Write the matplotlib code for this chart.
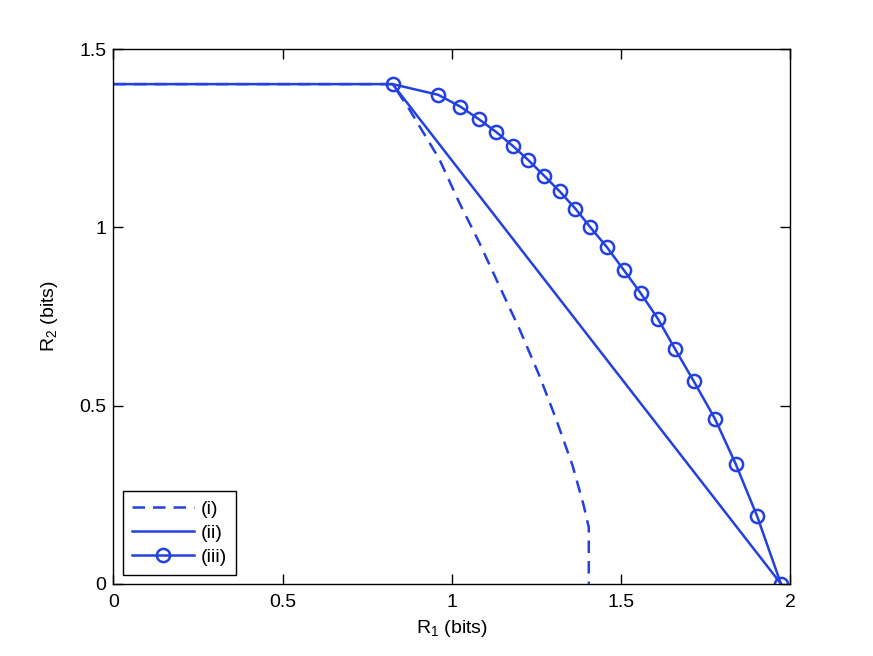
import matplotlib
matplotlib.use("Agg")
import matplotlib.pyplot as plt

plt.rcParams['font.family'] = ['Liberation Sans', 'DejaVu Sans']
plt.rcParams['mathtext.fontset'] = 'custom'
plt.rcParams['mathtext.rm'] = 'Liberation Sans'
plt.rcParams['mathtext.it'] = 'Liberation Sans'
plt.rcParams['mathtext.default'] = 'regular'

# Series (i): dashed
r1_i = [0.0, 0.825, 0.874, 0.963, 1.022, 1.081, 1.140, 1.200, 1.259, 1.308, 1.357, 1.390, 1.402, 1.405, 1.405]
r2_i = [1.402, 1.402, 1.332, 1.192, 1.070, 0.958, 0.837, 0.715, 0.584, 0.463, 0.332, 0.22, 0.17, 0.16, 0.0]

# Series (ii): solid
r1_ii = [0.0, 0.825, 1.973]
r2_ii = [1.402, 1.402, 0.0]

# Series (iii): solid with circles
r1_iii = [0.825, 0.960, 1.025, 1.081, 1.131, 1.180, 1.226, 1.273, 1.319, 1.365, 1.410,
          1.459, 1.508, 1.558, 1.609, 1.660, 1.715, 1.778, 1.839, 1.903, 1.973]
r2_iii = [1.402, 1.372, 1.339, 1.303, 1.268, 1.229, 1.189, 1.145, 1.101, 1.053, 1.000,
          0.944, 0.881, 0.816, 0.744, 0.659, 0.569, 0.463, 0.337, 0.189, 0.0]

labels = ['(i)', '(ii)', '(iii)']
xticks = [0, 0.5, 1, 1.5, 2]
yticks = [0, 0.5, 1, 1.5]

color = '#2340e0'
fig = plt.figure(figsize=(8.73, 6.56), dpi=100)
ax = fig.add_axes([0.13, 0.11, 0.775, 0.815])

ax.plot(r1_i, r2_i, '--', color=color, lw=1.8, dashes=(5, 3.2), label=labels[0])
ax.plot(r1_ii, r2_ii, '-', color=color, lw=1.8, label=labels[1])
ax.plot(r1_iii, r2_iii, '-', color=color, lw=1.8, marker='o', ms=9.5,
        mfc='none', mec=color, mew=1.8, label=labels[2])

ax.set_xlim(0, 2)
ax.set_ylim(0, 1.5)
ax.set_xticks(xticks)
ax.set_xticklabels(['0', '0.5', '1', '1.5', '2'])
ax.set_yticks(yticks)
ax.set_yticklabels(['0', '0.5', '1', '1.5'])
ax.tick_params(direction='in', top=True, right=True, length=7, width=1, labelsize=14)
ax.tick_params(axis='x', pad=7)
ax.tick_params(axis='y', pad=5)
for s in ax.spines.values():
    s.set_linewidth(1.0)
ax.set_xlabel('R$_1$ (bits)', fontsize=14, labelpad=5)
ax.set_ylabel('R$_2$ (bits)', fontsize=14, labelpad=14)

leg = ax.legend(loc='lower left', fontsize=14, frameon=True, fancybox=False,
                edgecolor='black', framealpha=1, handlelength=3.2,
                borderaxespad=0.48, borderpad=0.45, labelspacing=0.33, handletextpad=0.36)
leg.get_frame().set_linewidth(1.0)

fig.savefig('out.png', dpi=100, facecolor='white')
